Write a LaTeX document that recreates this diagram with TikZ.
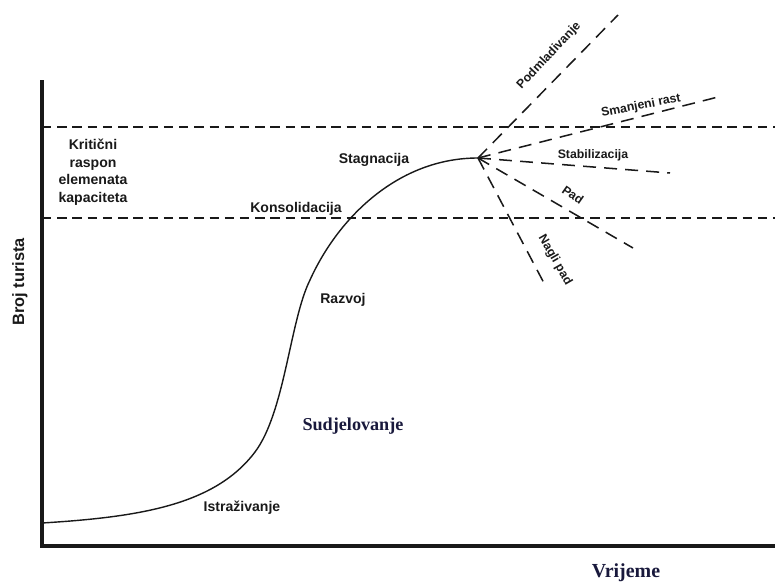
\documentclass[tikz,border=0pt]{standalone}
\usepackage{fontspec}
\setmainfont{Liberation Serif}
\setsansfont{Liberation Sans}
\usetikzlibrary{positioning}
\definecolor{inkblack}{RGB}{25, 25, 25}
\definecolor{navyink}{RGB}{25, 25, 60}

\begin{document}
\begin{tikzpicture}[x=0.03cm, y=-0.03cm,
  axis/.style={line width=2.6pt, inkblack},
  limit/.style={line width=1.2pt, inkblack, dash pattern=on 8pt off 5pt},
  branch/.style={line width=1.3pt, inkblack, dash pattern=on 11pt off 7pt},
  stage/.style={font=\sffamily\bfseries\fontsize{12}{15}\selectfont, text=inkblack, inner sep=1pt},
  trend/.style={font=\sffamily\bfseries\fontsize{10.5}{12}\selectfont, text=inkblack, inner sep=1pt},
  title/.style={font=\rmfamily\bfseries\fontsize{#1}{#1}\selectfont, text=navyink, inner sep=1pt},
]
  \useasboundingbox (0,0) rectangle (775,583);

  % Axes
  \coordinate (ytop) at (42,80);
  \coordinate (origin) at (42,546);
  \coordinate (xend) at (775,546);
  \draw[axis] (ytop) -- (origin) -- (xend);
  \node[stage, font=\sffamily\bfseries\fontsize{14}{14}\selectfont, rotate=90] (ylab) at (20,282) {Broj turista};
  \node[title=17] (xlab) at (626,573) {Vrijeme};

  % Critical capacity range
  \coordinate (captopL) at (42,127);
  \coordinate (captopR) at (775,127);
  \coordinate (capbotL) at (42,218);
  \coordinate (capbotR) at (775,218);
  \draw[limit] (captopL) -- (captopR);
  \draw[limit] (capbotL) -- (capbotR);
  \node[stage, align=center] (range) at (93,172) {Kritični\\raspon\\elemenata\\kapaciteta};

  % Life cycle curve
  \coordinate (start) at (42,523);
  \coordinate (bend1) at (255,452);
  \coordinate (bend2) at (310,280);
  \coordinate (peak) at (478,158);
  \draw[line width=1.2pt, inkblack]
    (start) .. controls (140,517) and (215,505) .. (bend1)
            .. controls (285,412) and (290,320) .. (bend2)
            .. controls (338,218) and (398,158) .. (peak);

  % Stages
  \node[stage] (istr) at (242,508) {Istraživanje};
  \node[title=15.5] (sudj) at (353,426) {Sudjelovanje};
  \node[stage] (razv) at (343,300) {Razvoj};
  \node[stage] (kons) at (296,209) {Konsolidacija};
  \node[stage] (stag) at (374,160) {Stagnacija};

  % Possible outcomes
  \coordinate (podm) at (618,15);
  \coordinate (smanj) at (718,97);
  \coordinate (stab) at (670,173);
  \coordinate (pad) at (633,248);
  \coordinate (nagli) at (545,285);
  \draw[branch] (peak) -- (podm);
  \draw[branch] (peak) -- (smanj);
  \draw[branch] (peak) -- (stab);
  \draw[branch] (peak) -- (pad);
  \draw[branch] (peak) -- (nagli);

  \node[trend, rotate=47] (podmlab) at (549,56) {Podmladivanje};
  \node[trend, rotate=11] (smanjlab) at (641,106) {Smanjeni rast};
  \node[trend] (stablab) at (593,155) {Stabilizacija};
  \node[trend, rotate=-35] (padlab) at (573,195) {Pad};
  \node[trend, rotate=-60] (naglilab) at (555,260) {Nagli pad};
\end{tikzpicture}
\end{document}
